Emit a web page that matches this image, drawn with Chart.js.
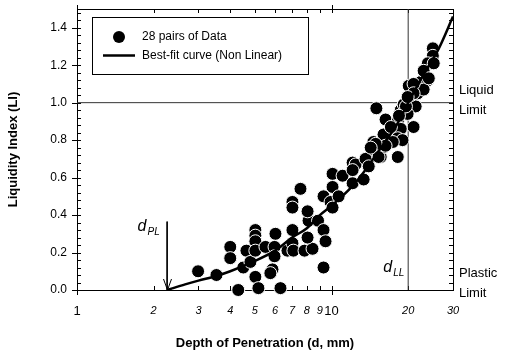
<!DOCTYPE html>
<html>
<head>
<meta charset="utf-8">
<script src="https://cdn.jsdelivr.net/npm/chart.js@4.4.0/dist/chart.umd.min.js"></script>
<style>
  html, body { margin: 0; padding: 0; background: #fff; }
  #wrap { width: 509px; height: 353px; }
</style>
</head>
<body>
<div id="wrap"><canvas id="chart"></canvas></div>
<script>
// measured points (depth of penetration, mm) / liquidity index
const depth = [
  2.99, 3.53, 4.00, 4.00, 4.30, 4.50, 4.63, 4.80, 5.02, 5.02,
  5.02, 5.02, 5.02, 5.16, 5.50, 6.02, 5.97, 5.97, 5.86, 5.75,
  6.30, 6.71, 7.02, 7.02, 7.08, 7.83, 8.42, 8.05, 8.12, 8.85,
  9.30, 7.55, 7.02, 7.02, 8.05, 9.30, 9.47, 10.09, 10.09, 9.30,
  9.91, 10.09, 10.66, 11.05, 12.10, 13.37, 12.10, 12.43, 13.99, 15.6,
  18.2, 14.6, 12.1, 15.0, 18.7, 19.2, 21.4, 19.9, 16.3, 18.2,
  21.0, 17.9, 18.7, 16.0, 18.2, 19.0, 17.4, 14.6, 14.5, 15.9,
  15.3, 13.6, 14.0, 22.4, 23.9, 20.5, 21.8, 23.0, 20.1, 25.0,
  25.0, 23.9, 25.2, 23.0, 24.1, 21.0, 21.0, 19.6, 18.4, 17.1,
  16.3, 14.9, 19.9, 14.25
];
const li = [
  0.10, 0.08, 0.23, 0.17, 0.00, 0.12, 0.21, 0.15, 0.32, 0.29,
  0.26, 0.21, 0.07, 0.01, 0.23, 0.30, 0.23, 0.18, 0.11, 0.09,
  0.01, 0.21, 0.32, 0.25, 0.21, 0.21, 0.22, 0.28, 0.37, 0.37,
  0.12, 0.54, 0.47, 0.44, 0.42, 0.32, 0.26, 0.62, 0.55, 0.50,
  0.47, 0.44, 0.50, 0.61, 0.57, 0.59, 0.68, 0.67, 0.67, 0.71,
  0.71, 0.74, 0.64, 0.97, 0.96, 0.99, 0.98, 0.94, 0.91, 0.90,
  0.87, 0.86, 0.86, 0.83, 0.81, 0.80, 0.79, 0.79, 0.75, 0.76,
  0.71, 0.70, 0.66, 1.11, 1.12, 1.04, 1.05, 1.07, 1.09, 1.29,
  1.25, 1.21, 1.21, 1.17, 1.13, 1.10, 1.05, 0.98, 0.93, 0.87,
  0.77, 0.78, 1.03, 0.76
];

// best-fit curve
const curveDepth = [2.26, 2.66, 3.0, 3.53, 4.0, 4.9, 6.0, 7.0, 8.0, 9.0, 10, 12, 13.4, 16, 18, 20, 23, 26.4, 30];
const curveLI    = [0.00, 0.03, 0.05, 0.075, 0.10, 0.15, 0.21, 0.28, 0.33, 0.40, 0.45, 0.55, 0.63, 0.78, 0.88, 1.00, 1.15, 1.29, 1.46];

const xTicks = [1, 2, 3, 4, 5, 6, 7, 8, 9, 10, 20, 30];
const yTicks = [0, 0.2, 0.4, 0.6, 0.8, 1.0, 1.2, 1.4];

const liquidLimit = 1.0;
const dLL = 20;
const dPL = 2.26;
const dPLTop = 0.365;

const FONT = "'Liberation Sans', Arial, sans-serif";

const decor = {
  id: 'decor',
  beforeDatasetsDraw(chart) {
    const { ctx, chartArea: a, scales: { x, y } } = chart;
    ctx.save();
    ctx.strokeStyle = '#000';
    ctx.lineWidth = 1;
    ctx.beginPath();
    // y ticks, minor every 0.04
    for (let i = 0; i <= 37; i++) {
      const py = Math.round(y.getPixelForValue(i * 0.04)) + 0.5;
      const major = i % 5 === 0;
      ctx.moveTo(a.left - (major ? 5 : 0), py);
      ctx.lineTo(a.left + 4, py);
      ctx.moveTo(a.right, py);
      ctx.lineTo(a.right - 4, py);
    }
    // x ticks
    [1, 2, 3, 4, 5, 6, 7, 8, 9, 10, 20].forEach(v => {
      const px = Math.round(x.getPixelForValue(v)) + 0.5;
      const major = v === 1 || v === 10;
      ctx.moveTo(px, a.bottom + (major ? 5 : 0));
      ctx.lineTo(px, a.bottom - 4);
      ctx.moveTo(px, a.top - (major ? 4 : 0));
      ctx.lineTo(px, a.top + 4);
    });
    ctx.stroke();
    ctx.strokeRect(Math.round(a.left) + 0.5, Math.round(a.top) + 0.5,
      Math.round(a.right - a.left), Math.round(a.bottom - a.top));
    ctx.restore();
  },
  afterDatasetsDraw(chart) {
    const { ctx, scales: { x, y } } = chart;
    ctx.save();
    // legend box
    ctx.fillStyle = '#fff';
    ctx.fillRect(92, 17, 216, 57);
    ctx.strokeStyle = '#000';
    ctx.lineWidth = 1;
    ctx.strokeRect(92.5, 17.5, 216, 57);
    ctx.fillStyle = '#000';
    ctx.beginPath();
    ctx.arc(119, 37, 6, 0, Math.PI * 2);
    ctx.fill();
    ctx.lineWidth = 2.5;
    ctx.beginPath();
    ctx.moveTo(103, 55.5);
    ctx.lineTo(135, 55.5);
    ctx.stroke();
    ctx.font = `12px ${FONT}`;
    ctx.textBaseline = 'middle';
    ctx.textAlign = 'left';
    ctx.fillText('28 pairs of Data', 142, 37);
    ctx.fillText('Best-fit curve (Non Linear)', 142, 56);

    // right side labels
    ctx.font = `13px ${FONT}`;
    const ly = y.getPixelForValue(liquidLimit);
    ctx.fillText('Liquid', 459, ly - 12);
    ctx.fillText('Limit', 459, ly + 8);
    const py0 = y.getPixelForValue(0);
    ctx.fillText('Plastic', 459, py0 - 17);
    ctx.fillText('Limit', 459, py0 + 3);

    // arrowhead at d_PL
    const ax = Math.round(x.getPixelForValue(dPL)) + 0.5;
    ctx.lineWidth = 1;
    ctx.beginPath();
    ctx.moveTo(ax - 4, py0 - 11);
    ctx.lineTo(ax, py0);
    ctx.lineTo(ax + 4, py0 - 11);
    ctx.stroke();

    // d_PL and d_LL labels
    const ayTop = y.getPixelForValue(dPLTop);
    ctx.font = `italic 16px ${FONT}`;
    ctx.textBaseline = 'alphabetic';
    ctx.fillText('d', ax - 30, ayTop + 9);
    ctx.font = `italic 10px ${FONT}`;
    ctx.fillText('PL', ax - 20, ayTop + 13);
    const lx = x.getPixelForValue(dLL);
    ctx.font = `italic 16px ${FONT}`;
    ctx.fillText('d', lx - 25, py0 - 18);
    ctx.font = `italic 10px ${FONT}`;
    ctx.fillText('LL', lx - 15, py0 - 14);
    ctx.restore();
  }
};

new Chart(document.getElementById('chart'), {
  type: 'scatter',
  data: {
    datasets: [
      {
        label: 'Best-fit curve (Non Linear)',
        type: 'line',
        data: curveDepth.map((d, i) => ({ x: d, y: curveLI[i] })),
        borderColor: '#000',
        borderWidth: 2.5,
        pointRadius: 0,
        cubicInterpolationMode: 'monotone',
        fill: false,
        order: 0
      },
      {
        label: '28 pairs of Data',
        data: depth.map((d, i) => ({ x: d, y: li[i] })),
        backgroundColor: '#000',
        borderColor: '#fff',
        borderWidth: 1,
        pointRadius: 6.5,
        clip: false,
        order: 1
      },
      {
        label: 'Liquid Limit',
        type: 'line',
        data: [{ x: 1, y: liquidLimit }, { x: 30, y: liquidLimit }],
        borderColor: '#333',
        borderWidth: 1,
        pointRadius: 0,
        order: 3
      },
      {
        label: 'd LL',
        type: 'line',
        data: [{ x: dLL, y: 0 }, { x: dLL, y: 1.5 }],
        borderColor: '#333',
        borderWidth: 1,
        pointRadius: 0,
        order: 3
      },
      {
        label: 'd PL',
        type: 'line',
        data: [{ x: dPL, y: dPLTop }, { x: dPL, y: 0 }],
        borderColor: '#000',
        borderWidth: 1,
        pointRadius: 0,
        order: 3
      }
    ]
  },
  options: {
    responsive: true,
    maintainAspectRatio: false,
    animation: false,
    layout: { padding: { top: 9, right: 56, bottom: 0, left: 0 } },
    plugins: { legend: { display: false }, tooltip: { enabled: false } },
    scales: {
      x: {
        type: 'logarithmic',
        min: 1,
        max: 30,
        afterBuildTicks: s => { s.ticks = xTicks.map(v => ({ value: v })); },
        afterFit: s => { s.height = 63; s.paddingLeft = 0; s.paddingRight = 0; },
        grid: { display: false, drawTicks: false },
        border: { display: false },
        ticks: {
          autoSkip: false,
          maxRotation: 0,
          padding: 14,
          color: '#000',
          callback: v => String(v),
          font: c => {
            const v = c.tick ? c.tick.value : 0;
            const major = v === 1 || v === 10;
            return { family: FONT, size: major ? 13 : 11, style: major ? 'normal' : 'italic' };
          }
        },
        title: {
          display: true,
          text: 'Depth of Penetration (d, mm)',
          color: '#000',
          font: { family: FONT, size: 13, weight: 'bold' },
          padding: { top: 0, bottom: 2 }
        }
      },
      y: {
        min: 0,
        max: 1.5,
        afterBuildTicks: s => { s.ticks = yTicks.map(v => ({ value: v })); },
        afterFit: s => { s.width = 77; s.paddingTop = 0; s.paddingBottom = 0; },
        grid: { display: false, drawTicks: false },
        border: { display: false },
        ticks: {
          padding: 10,
          color: '#000',
          font: { family: FONT, size: 12 },
          callback: v => Number(v).toFixed(1)
        },
        title: {
          display: true,
          text: 'Liquidity Index (LI)',
          color: '#000',
          font: { family: FONT, size: 13, weight: 'bold' },
          padding: { top: 6, bottom: 0 }
        }
      }
    }
  },
  plugins: [decor]
});
</script>
</body>
</html>
